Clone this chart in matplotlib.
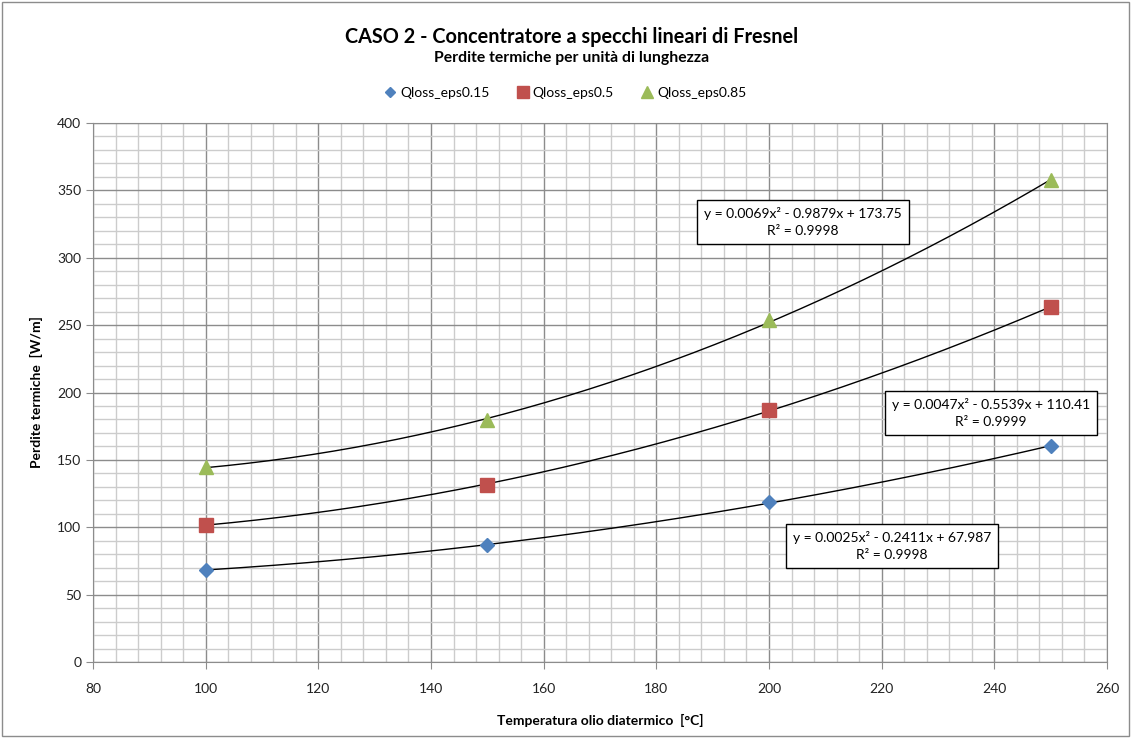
import numpy as np
import matplotlib
matplotlib.use("Agg")
import matplotlib.pyplot as plt
from matplotlib.ticker import MultipleLocator
from matplotlib.patches import Rectangle

plt.rcParams['font.family'] = ['Lato', 'DejaVu Sans']

# data
temperature = [100, 150, 200, 250]
qloss_eps015 = [68.5, 86.5, 118.5, 160.3]
qloss_eps05 = [101.8, 131.5, 187.0, 263.4]
qloss_eps085 = [144.7, 179.3, 253.5, 357.5]

series_names = ['Qloss_eps0.15', 'Qloss_eps0.5', 'Qloss_eps0.85']
trend_labels = ['y = 0.0025x² - 0.2411x + 67.987\nR² = 0.9998',
                'y = 0.0047x² - 0.5539x + 110.41\nR² = 0.9999',
                'y = 0.0069x² - 0.9879x + 173.75\nR² = 0.9998']
label_pos = [(221.8, 86), (239.4, 184.8), (206, 326.5)]

colors = ['#4F81BD', '#C0504D', '#9BBB59']
markers = ['D', 's', '^']
msizes = [7, 10, 10]

fig = plt.figure(figsize=(11.31, 7.38), dpi=100)
ax = fig.add_axes([0.0822, 0.1030, 0.8966, 0.7303])

ax.set_xlim(80, 260)
ax.set_ylim(0, 400)
ax.xaxis.set_major_locator(MultipleLocator(20))
ax.xaxis.set_minor_locator(MultipleLocator(4))
ax.yaxis.set_major_locator(MultipleLocator(50))
ax.yaxis.set_minor_locator(MultipleLocator(10))
ax.grid(which='major', color='#8c8c8c', lw=1.0)
ax.grid(which='minor', color='#cccccc', lw=1.0)
ax.set_axisbelow(True)
for s in ax.spines.values():
    s.set_color('#8c8c8c')
ax.tick_params(which='major', length=5, color='#8c8c8c', labelsize=10, labelcolor='#222222')
ax.tick_params(which='minor', length=0)
ax.tick_params(axis='x', pad=10)

xs = np.linspace(100, 250, 200)
all_y = [qloss_eps015, qloss_eps05, qloss_eps085]
for i, yv in enumerate(all_y):
    coef = np.polyfit(temperature, yv, 2)
    ax.plot(xs, np.polyval(coef, xs), color='black', lw=1.0, zorder=2)
    ax.plot(temperature, yv, ls='none', marker=markers[i], ms=msizes[i],
            color=colors[i], mec=colors[i], label=series_names[i], zorder=3)
    ax.text(label_pos[i][0], label_pos[i][1], trend_labels[i], ha='center', va='center',
            fontsize=10, linespacing=1.45, zorder=4,
            bbox=dict(boxstyle='square,pad=0.5', fc='white', ec='black', lw=1.0))

ax.set_xlabel('Temperatura olio diatermico  [°C]', fontsize=10, fontweight='bold', labelpad=14)
ax.set_ylabel('Perdite termiche  [W/m]', fontsize=10, fontweight='bold', labelpad=10)

fig.text(0.505, 0.950, 'CASO 2 - Concentratore a specchi lineari di Fresnel',
         ha='center', va='center', fontsize=14.3, fontweight='bold')
fig.text(0.505, 0.922, 'Perdite termiche per unità di lunghezza',
         ha='center', va='center', fontsize=11.3, fontweight='bold')

fig.legend(loc='center', bbox_to_anchor=(0.5, 0.874), ncol=3, frameon=False,
           fontsize=10, handlelength=0.8, handletextpad=0.3, columnspacing=2.0,
           markerscale=0.8)

fig.patches.append(Rectangle((0.002, 0.003), 0.996, 0.994, transform=fig.transFigure,
                             fill=False, ec='#8c8c8c', lw=1.0))

fig.savefig('out.png', dpi=100)
